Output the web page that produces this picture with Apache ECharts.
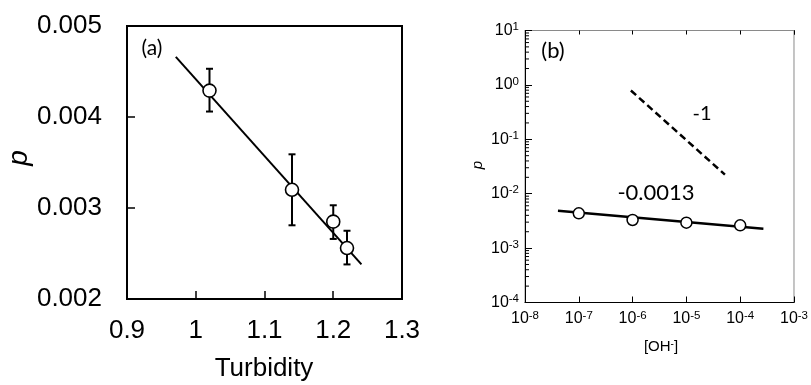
<!DOCTYPE html>
<html>
<head>
<meta charset="utf-8">
<script src="https://cdn.jsdelivr.net/npm/echarts@6/dist/echarts.min.js"></script>
<style>html,body{margin:0;padding:0;background:#fff}#c{width:811px;height:385px}</style>
</head>
<body>
<div id="c"></div>
<script>
// ---- Panel (a) data ----
const turbidity = [1.02, 1.14, 1.20, 1.22];
const pA = [0.00429, 0.00320, 0.00285, 0.00256];
const pAErrHigh = [0.00453, 0.00359, 0.00303, 0.00275];
const pAErrLow = [0.00406, 0.00281, 0.00266, 0.00238];
const fitAX = [0.971, 1.241];
const fitAY = [0.00466, 0.00238];

// ---- Panel (b) data ----
const ohConc = [1e-7, 1e-6, 1e-5, 1e-4];
const pB = [0.00436, 0.00329, 0.00293, 0.00262];
const fitBX = [4.1e-8, 2.7e-4];
const fitBY = [0.00485, 0.00226];
const slopeX = [9.3e-7, 5.2e-5];
const slopeY = [0.79, 0.0224];
const slopeLabel = '-1';
const fitLabel = '-0.0013';

// minor tick values for log y axis (2..9 x 10^k)
const minorTicksB = [];
for (let k = -4; k <= 0; k++) for (let d = 2; d <= 9; d++) minorTicksB.push(d * Math.pow(10, k));

const chart = echarts.init(document.getElementById('c'), null, {renderer: 'canvas'});

const FONT = 'Liberation Sans';
const supFmt = v => {
  const e = Math.round(Math.log10(v));
  return '{b|10}{s|' + e + '}';
};
const supRich = {
  b: {fontSize: 16, fontFamily: FONT, color: '#000', lineHeight: 19},
  s: {fontSize: 11.5, fontFamily: FONT, color: '#000', verticalAlign: 'top', lineHeight: 19, padding: [0, 0, 7, 0]}
};
const txt = (x, y, text, size, family, extra, italic) => Object.assign({
  type: 'text', x: x, y: y,
  style: {text: text, fontSize: size, fontFamily: family, fontStyle: italic ? 'italic' : 'normal',
    fill: '#000', align: 'center', verticalAlign: 'middle'}
}, extra || {});

chart.setOption({
  animation: false,
  backgroundColor: '#fff',
  grid: [
    {left: 127, top: 26, width: 275, height: 273, show: true, borderColor: '#000', borderWidth: 2, backgroundColor: 'transparent'},
    {left: 525, top: 30.5, width: 273, height: 272, show: true, borderColor: '#8a8a8a', borderWidth: 1, backgroundColor: 'transparent'}
  ],
  xAxis: [
    {
      gridIndex: 0, type: 'value', min: 0.9, max: 1.3, interval: 0.1,
      splitLine: {show: false},
      axisLine: {lineStyle: {color: '#000', width: 2}},
      axisTick: {inside: true, length: 8, lineStyle: {color: '#000', width: 1.5}},
      axisLabel: {fontSize: 26, fontFamily: FONT, color: '#000', margin: 19,
        formatter: v => { const r = Math.round(v * 10) / 10; return Number.isInteger(r) ? String(r) : r.toFixed(1); }}
    },
    {
      gridIndex: 1, type: 'log', logBase: 10, min: 1e-8, max: 1e-3,
      splitLine: {show: false},
      axisLine: {lineStyle: {color: '#000', width: 1}},
      axisTick: {inside: true, length: 6, lineStyle: {color: '#000', width: 1}},
      axisLabel: {formatter: supFmt, rich: supRich, margin: 7}
    },
    {
      gridIndex: 1, type: 'log', logBase: 10, min: 1e-8, max: 1e-3, position: 'top',
      splitLine: {show: false},
      axisLine: {lineStyle: {color: '#8a8a8a', width: 1}},
      axisTick: {inside: true, length: 4, lineStyle: {color: '#000', width: 1}},
      axisLabel: {show: false}
    }
  ],
  yAxis: [
    {
      gridIndex: 0, type: 'value', min: 0.002, max: 0.005, interval: 0.001,
      splitLine: {show: false},
      axisLine: {lineStyle: {color: '#000', width: 2}},
      axisTick: {inside: true, length: 8, lineStyle: {color: '#000', width: 1.5}},
      axisLabel: {fontSize: 26, fontFamily: FONT, color: '#000', margin: 25, formatter: v => v.toFixed(3)}
    },
    {
      gridIndex: 1, type: 'log', logBase: 10, min: 1e-4, max: 10,
      splitLine: {show: false},
      axisLine: {lineStyle: {color: '#000', width: 1}},
      axisTick: {inside: true, length: 7, lineStyle: {color: '#000', width: 1}},
      axisLabel: {formatter: supFmt, rich: supRich, margin: 6}
    }
  ],
  series: [
    // ---- (a) ----
    {
      type: 'custom', xAxisIndex: 0, yAxisIndex: 0, z: 2,
      data: turbidity.map((x, i) => [x, pAErrLow[i], pAErrHigh[i]]),
      renderItem: (params, api) => {
        const x = api.value(0);
        const top = api.coord([x, api.value(2)]);
        const bot = api.coord([x, api.value(1)]);
        const hw = 3.5, st = {stroke: '#000', lineWidth: 2};
        return {type: 'group', children: [
          {type: 'line', shape: {x1: top[0], y1: top[1], x2: bot[0], y2: bot[1]}, style: st},
          {type: 'line', shape: {x1: top[0] - hw, y1: top[1], x2: top[0] + hw, y2: top[1]}, style: st},
          {type: 'line', shape: {x1: bot[0] - hw, y1: bot[1], x2: bot[0] + hw, y2: bot[1]}, style: st}
        ]};
      }
    },
    {
      type: 'line', xAxisIndex: 0, yAxisIndex: 0, z: 3,
      data: fitAX.map((x, i) => [x, fitAY[i]]),
      symbol: 'none', lineStyle: {color: '#000', width: 2}
    },
    {
      type: 'scatter', xAxisIndex: 0, yAxisIndex: 0, z: 5,
      data: turbidity.map((x, i) => [x, pA[i]]),
      symbol: 'circle', symbolSize: 13,
      itemStyle: {color: '#fff', borderColor: '#000', borderWidth: 1.6, opacity: 1}
    },
    // ---- (b) ----
    {
      type: 'custom', xAxisIndex: 1, yAxisIndex: 1, z: 2,
      data: minorTicksB.map(v => [1e-8, v]),
      renderItem: (params, api) => {
        const p = api.coord([api.value(0), api.value(1)]);
        return {type: 'line', shape: {x1: p[0], y1: p[1], x2: p[0] + 4, y2: p[1]}, style: {stroke: '#000', lineWidth: 1}};
      }
    },
    {
      type: 'line', xAxisIndex: 1, yAxisIndex: 1, z: 3,
      data: fitBX.map((x, i) => [x, fitBY[i]]),
      symbol: 'none', lineStyle: {color: '#000', width: 2.5}
    },
    {
      type: 'line', xAxisIndex: 1, yAxisIndex: 1, z: 3,
      data: slopeX.map((x, i) => [x, slopeY[i]]),
      symbol: 'none', lineStyle: {color: '#000', width: 2.5, type: [7, 4]}
    },
    {
      type: 'scatter', xAxisIndex: 1, yAxisIndex: 1, z: 5,
      data: ohConc.map((x, i) => [x, pB[i]]),
      symbol: 'circle', symbolSize: 11,
      itemStyle: {color: '#fff', borderColor: '#000', borderWidth: 1.5, opacity: 1}
    }
  ],
  graphic: [
    txt(19, 158, 'p', 28, FONT, {rotation: Math.PI / 2}, true),
    txt(264, 369, 'Turbidity', 26, FONT),
    txt(152, 48, '(a)', 21, 'Lato'),
    txt(478, 165, 'p', 15, FONT, {rotation: Math.PI / 2}, true),
    {type: 'text', x: 661, y: 347,
      style: {text: '[OH{s|-}]', fontSize: 15, fontFamily: FONT, fill: '#000', align: 'center', verticalAlign: 'middle',
        rich: {s: {fontSize: 10, fontFamily: FONT, verticalAlign: 'top', padding: [0, 0, 5, 0]}}}},
    txt(553, 51, '(b)', 22, 'Lato'),
    txt(702, 114, slopeLabel, 20, 'Lato'),
    txt(656, 193, fitLabel, 22, 'Lato')
  ]
});
</script>
</body>
</html>
